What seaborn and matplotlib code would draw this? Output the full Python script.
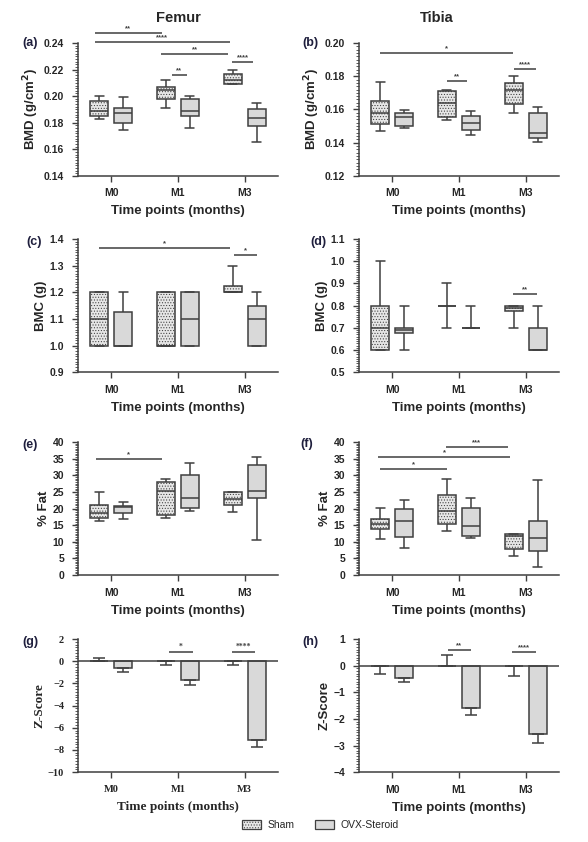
import numpy as np
import pandas as pd
import seaborn as sns
import matplotlib.pyplot as plt
from matplotlib.ticker import AutoMinorLocator, MultipleLocator
from matplotlib.patches import Patch

times = ["M0", "M1", "M3"]
groups = ["Sham", "OVX-Steroid"]

# five-number summaries: [min, q1, median, q3, max] per time point
femur_bmd_sham = [[0.183, 0.185, 0.189, 0.1965, 0.200], [0.191, 0.198, 0.2048, 0.2068, 0.2118], [0.209, 0.2093, 0.2125, 0.2165, 0.2195]]
femur_bmd_ovx = [[0.1747, 0.180, 0.1877, 0.1913, 0.199], [0.1757, 0.1852, 0.1887, 0.1975, 0.200], [0.1659, 0.1772, 0.1837, 0.1903, 0.195]]
tibia_bmd_sham = [[0.1472, 0.1512, 0.1577, 0.165, 0.1764], [0.1539, 0.1553, 0.1639, 0.1714, 0.1718], [0.1581, 0.1633, 0.172, 0.1762, 0.180]]
tibia_bmd_ovx = [[0.1486, 0.1498, 0.1553, 0.1577, 0.1599], [0.1444, 0.1478, 0.1518, 0.156, 0.1591], [0.1405, 0.143, 0.146, 0.1577, 0.1617]]
femur_bmc_sham = [[1.0, 1.0, 1.1, 1.2, 1.2], [1.0, 1.0, 1.0, 1.2, 1.2], [1.2, 1.2, 1.2, 1.225, 1.3]]
femur_bmc_ovx = [[1.0, 1.0, 1.0, 1.125, 1.2], [1.0, 1.0, 1.1, 1.2, 1.2], [1.0, 1.0, 1.1, 1.15, 1.2]]
tibia_bmc_sham = [[0.6, 0.6, 0.7, 0.8, 1.0], [0.7, 0.8, 0.8, 0.8, 0.9], [0.7, 0.775, 0.79, 0.8, 0.8]]
tibia_bmc_ovx = [[0.6, 0.675, 0.69, 0.70, 0.8], [0.7, 0.7, 0.7, 0.7, 0.8], [0.6, 0.6, 0.6, 0.7, 0.8]]
femur_fat_sham = [[16.3, 17.1, 18.8, 21.1, 25.1], [17.3, 18.2, 25.2, 28.1, 28.8], [18.9, 21.0, 23.0, 25.0, 25.0]]
femur_fat_ovx = [[16.9, 18.8, 20.4, 20.9, 22.0], [19.4, 20.1, 23.1, 30.0, 33.7], [10.6, 23.1, 25.4, 33.0, 35.4]]
tibia_fat_sham = [[10.7, 14.0, 15.5, 16.9, 20.3], [13.2, 15.4, 19.4, 24.2, 28.8], [5.8, 7.8, 11.7, 12.3, 12.3]]
tibia_fat_ovx = [[8.0, 11.6, 16.3, 19.8, 22.5], [11.3, 11.7, 14.7, 20.3, 23.3], [2.5, 7.1, 11.2, 16.2, 28.7]]

# Z-scores: mean and signed error-bar length
femur_z_sham = [0.0, 0.0, 0.0]
femur_z_sham_err = [0.3, -0.35, -0.35]
femur_z_ovx = [-0.6, -1.72, -7.1]
femur_z_ovx_err = [-0.38, -0.42, -0.66]
tibia_z_sham = [0.0, 0.0, 0.0]
tibia_z_sham_err = [-0.3, 0.39, -0.4]
tibia_z_ovx = [-0.475, -1.6, -2.575]
tibia_z_ovx_err = [-0.15, -0.25, -0.335]

EDGE = "#3f3f3f"
FILL_SHAM = "#e6e6e6"
FILL_OVX = "#d9d9d9"
LABEL_COL = "#1f1f3d"
SANS = "Liberation Sans"
SERIF = "Liberation Serif"

sns.set_style("ticks")
plt.rcParams["font.family"] = [SANS, "DejaVu Sans"]
plt.rcParams["font.weight"] = "bold"
plt.rcParams["hatch.linewidth"] = 0.45


def long_frame(sham, ovx):
    rows = []
    for g, vals in zip(groups, [sham, ovx]):
        for t, five in zip(times, vals):
            for v in five:
                rows.append({"time": t, "group": g, "value": v})
    return pd.DataFrame(rows)


def style_axis(ax, ylim, major, nminor, ylabel, family=SANS):
    ax.set_xlim(-0.5, 2.5)
    ax.set_ylim(*ylim)
    ax.yaxis.set_major_locator(MultipleLocator(major))
    ax.yaxis.set_minor_locator(AutoMinorLocator(nminor))
    sns.despine(ax=ax)
    for s in ["left", "bottom"]:
        ax.spines[s].set_color(EDGE)
        ax.spines[s].set_linewidth(1.1)
    ax.tick_params(axis="both", which="major", length=4, width=1.0, color=EDGE, labelsize=7.5)
    ax.tick_params(axis="x", pad=5)
    ax.tick_params(axis="y", pad=6)
    ax.tick_params(axis="y", which="minor", length=2, width=0.6, color=EDGE)
    ax.set_xlabel("Time points (months)", fontsize=9.5, fontweight="bold", family=family, labelpad=5)
    ax.set_ylabel(ylabel, fontsize=9.5, fontweight="bold", family=family, labelpad=2)
    for lab in ax.get_xticklabels() + ax.get_yticklabels():
        lab.set_fontweight("bold")
        lab.set_family(family)


def sig(ax, x1, x2, y, text, family=SANS):
    ax.plot([x1, x2], [y, y], color=EDGE, lw=1.1, clip_on=False, solid_capstyle="butt")
    ax.annotate(text, xy=((x1 + x2) / 2, y), xytext=(0, 0.5), textcoords="offset points",
                ha="center", va="bottom", fontsize=5.5, color=EDGE, family=family, annotation_clip=False)


def box_panel(ax, sham, ovx, ylim, major, ylabel):
    df = long_frame(sham, ovx)
    sns.boxplot(data=df, x="time", y="value", hue="group", order=times, hue_order=groups,
                whis=(0, 100), width=0.72, gap=0.25,
                palette={"Sham": FILL_SHAM, "OVX-Steroid": FILL_OVX},
                linecolor=EDGE, linewidth=1.1, legend=False, ax=ax)
    for p in ax.patches:
        ext = p.get_path().get_extents()
        cx = (ext.x0 + ext.x1) / 2
        if cx - round(cx) < 0:
            p.set_hatch("......")
    style_axis(ax, ylim, major, 10, ylabel)


def bar_panel(ax, sham, sham_err, ovx, ovx_err, ylim, major, nminor, family):
    df = pd.DataFrame({"time": times * 2, "group": [groups[0]] * 3 + [groups[1]] * 3,
                       "value": list(sham) + list(ovx)})
    sns.barplot(data=df, x="time", y="value", hue="group", order=times, hue_order=groups,
                errorbar=None, width=0.72, gap=0.25,
                palette={"Sham": FILL_SHAM, "OVX-Steroid": FILL_OVX},
                edgecolor=EDGE, linewidth=1.1, legend=False, ax=ax)
    for cont, errs in zip(ax.containers, [sham_err, ovx_err]):
        for bar, e in zip(cont, errs):
            x = bar.get_x() + bar.get_width() / 2
            m = bar.get_y() + bar.get_height() if bar.get_y() >= 0 else bar.get_y()
            yerr = [[-e if e < 0 else 0], [e if e > 0 else 0]]
            ax.errorbar(x, m, yerr=yerr, color=EDGE, elinewidth=1.1, capsize=4, capthick=1.1, zorder=3)
    ax.axhline(0, color=EDGE, lw=1.1, zorder=4)
    style_axis(ax, ylim, major, nminor, "Z-Score", family)


fig = plt.figure(figsize=(5.88, 8.42), dpi=100)
lefts = [0.1327, 0.6105]
bottoms = [0.791, 0.558, 0.317, 0.083]
w, h = 0.340, 0.158
axs = [[fig.add_axes([l, b, w, h]) for l in lefts] for b in bottoms]

# (a) femur BMD
ax = axs[0][0]
box_panel(ax, femur_bmd_sham, femur_bmd_ovx, (0.14, 0.24), 0.02, "BMD (g/cm$^\\mathbf{2}$)")
ax.yaxis.set_major_formatter(plt.FormatStrFormatter("%.2f"))
sig(ax, -0.25, 0.756, 0.2475, "**")
sig(ax, -0.25, 1.777, 0.2407, "****")
sig(ax, 0.746, 1.752, 0.2317, "**")
sig(ax, 0.905, 1.129, 0.2156, "**")
sig(ax, 1.81, 2.126, 0.2254, "****")

# (b) tibia BMD
ax = axs[0][1]
box_panel(ax, tibia_bmd_sham, tibia_bmd_ovx, (0.12, 0.20), 0.02, "BMD (g/cm$^\\mathbf{2}$)")
ax.yaxis.set_major_formatter(plt.FormatStrFormatter("%.2f"))
sig(ax, -0.184, 1.808, 0.194, "*")
sig(ax, 0.82, 1.12, 0.177, "**")
sig(ax, 1.823, 2.149, 0.1843, "****")

# (c) femur BMC
ax = axs[1][0]
box_panel(ax, femur_bmc_sham, femur_bmc_ovx, (0.9, 1.4), 0.1, "BMC (g)")
ax.yaxis.set_major_formatter(plt.FormatStrFormatter("%.1f"))
sig(ax, -0.19, 1.777, 1.366, "*")
sig(ax, 1.84, 2.18, 1.341, "*")

# (d) tibia BMC
ax = axs[1][1]
box_panel(ax, tibia_bmc_sham, tibia_bmc_ovx, (0.5, 1.1), 0.1, "BMC (g)")
ax.yaxis.set_major_formatter(plt.FormatStrFormatter("%.1f"))
sig(ax, 1.813, 2.174, 0.854, "**")

# (e) femur % fat
ax = axs[2][0]
box_panel(ax, femur_fat_sham, femur_fat_ovx, (0, 40), 5, "% Fat")
sig(ax, -0.23, 0.756, 35.0, "*")

# (f) tibia % fat
ax = axs[2][1]
box_panel(ax, tibia_fat_sham, tibia_fat_ovx, (0, 40), 5, "% Fat")
sig(ax, -0.184, 0.82, 31.8, "*")
sig(ax, -0.209, 1.773, 35.4, "*")
sig(ax, 0.805, 1.733, 38.5, "***")

# (g) femur z-score
ax = axs[3][0]
bar_panel(ax, femur_z_sham, femur_z_sham_err, femur_z_ovx, femur_z_ovx_err, (-10, 2), 2, 8, SERIF)
ax.yaxis.set_major_formatter(plt.FuncFormatter(lambda v, p: f"{v:.0f}".replace("-", "\u2212")))
sig(ax, 0.86, 1.22, 0.86, "*", SERIF)
sig(ax, 1.81, 2.16, 0.86, "****", SERIF)

# (h) tibia z-score
ax = axs[3][1]
bar_panel(ax, tibia_z_sham, tibia_z_sham_err, tibia_z_ovx, tibia_z_ovx_err, (-4, 1), 1, 10, SANS)
sig(ax, 0.83, 1.18, 0.59, "**")
sig(ax, 1.80, 2.15, 0.525, "****")

# titles and panel letters
fig.text(178 / 588, 1 - 18 / 842, "Femur", ha="center", va="center", fontsize=10.5, fontweight="bold")
fig.text(437 / 588, 1 - 18 / 842, "Tibia", ha="center", va="center", fontsize=10.5, fontweight="bold")
letters = [("(a)", 22, 43), ("(b)", 302, 43), ("(c)", 26, 242), ("(d)", 310, 242),
           ("(e)", 22, 445), ("(f)", 300, 444), ("(g)", 22, 642), ("(h)", 302, 642)]
for txt, px, py in letters:
    fig.text(px / 588, 1 - py / 842, txt, ha="left", va="center", fontsize=9,
             fontweight="bold", color=LABEL_COL)

handles = [Patch(facecolor=FILL_SHAM, edgecolor=EDGE, hatch="......", linewidth=0.9, label="Sham"),
           Patch(facecolor=FILL_OVX, edgecolor=EDGE, linewidth=0.9, label="OVX-Steroid")]
leg = fig.legend(handles=handles, loc="center", bbox_to_anchor=(0.545, 0.02), ncol=2, frameon=False,
                 fontsize=7.5, handlelength=1.8, handleheight=0.9, columnspacing=2.0, handletextpad=0.6)
for t in leg.get_texts():
    t.set_fontweight("normal")

fig.savefig("out.png", dpi=100)
